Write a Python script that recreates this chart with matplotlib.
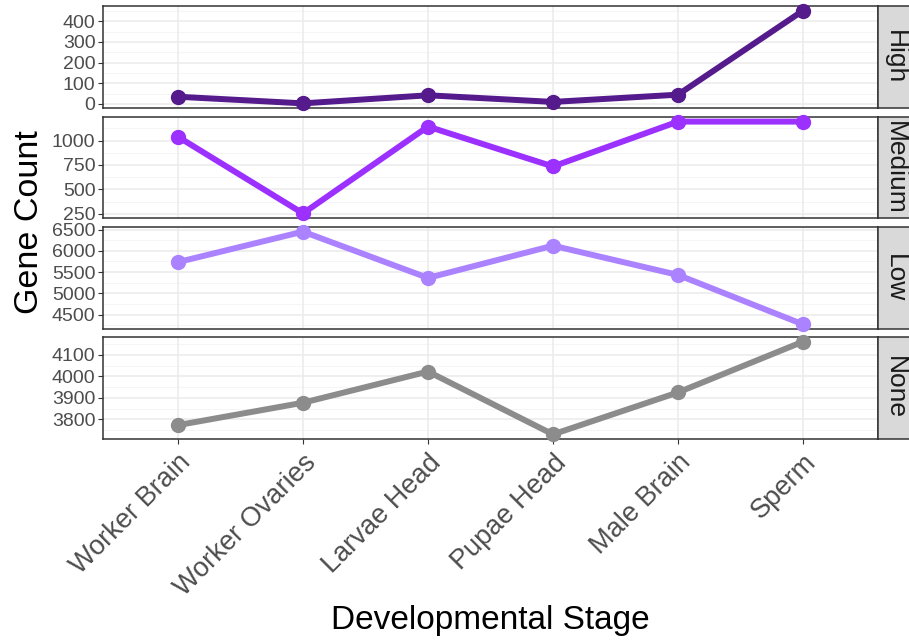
import numpy as np
import matplotlib
matplotlib.use("Agg")
import matplotlib.pyplot as plt
from matplotlib.ticker import FixedLocator

plt.rcParams['font.family'] = ['Liberation Sans', 'DejaVu Sans']

# data
stages = ["Worker Brain", "Worker Ovaries", "Larvae Head", "Pupae Head", "Male Brain", "Sperm"]
levels = ["High", "Medium", "Low", "None"]
high = [35, 3, 42, 10, 45, 451]
medium = [1038, 253, 1143, 734, 1194, 1194]
low = [5734, 6450, 5362, 6120, 5432, 4270]
none = [3773, 3877, 4022, 3730, 3925, 4161]
series = [high, medium, low, none]
colors = ["#551A8B", "#9B30FF", "#AB82FF", "#8C8C8C"]
yticks = [[0, 100, 200, 300, 400],
          [250, 500, 750, 1000],
          [4500, 5000, 5500, 6000, 6500],
          [3800, 3900, 4000, 4100]]

W, H = 909, 640
fig = plt.figure(figsize=(W / 100, H / 100), dpi=100)

left, right, strip_r = 103, 878, 909
panels = [(6, 108), (117, 218), (227, 329), (337, 439)]
x = np.arange(1, len(stages) + 1)

for i, (top, bot) in enumerate(panels):
    ax = fig.add_axes([left / W, 1 - bot / H, (right - left) / W, (bot - top) / H])
    vals = series[i]
    lo, hi = min(vals), max(vals)
    pad = 0.05 * (hi - lo)
    ax.set_ylim(lo - pad, hi + pad)
    ax.set_xlim(0.4, len(stages) + 0.6)
    # grid
    maj = yticks[i]
    step = maj[1] - maj[0]
    minor = [maj[0] - step / 2] + [v + step / 2 for v in maj]
    for v in minor:
        ax.axhline(v, color="#F2F2F2", lw=0.55, zorder=0)
    for v in maj:
        ax.axhline(v, color="#EBEBEB", lw=1.1, zorder=0)
    for v in x:
        ax.axvline(v, color="#EBEBEB", lw=1.1, zorder=0)
    ax.plot(x, vals, color=colors[i], lw=4.3, marker="o", ms=10, zorder=3,
            solid_capstyle="butt", clip_on=False)
    ax.yaxis.set_major_locator(FixedLocator(maj))
    ax.tick_params(axis="y", labelsize=14, labelcolor="#4D4D4D", color="#333333",
                   length=3.5, width=0.8, pad=2)
    ax.set_xticks(x)
    if i == len(panels) - 1:
        ax.set_xticklabels(stages, rotation=45, ha="right", va="top",
                           rotation_mode="anchor", fontsize=19.5, color="#4D4D4D")
        ax.tick_params(axis="x", color="#333333", length=3.5, width=0.8, pad=4)
    else:
        ax.tick_params(axis="x", length=0, labelbottom=False)
    for s in ax.spines.values():
        s.set_color("#333333")
        s.set_linewidth(1.1)
    # facet strip
    sax = fig.add_axes([right / W, 1 - bot / H, (strip_r - right + 2) / W, (bot - top) / H])
    sax.set_facecolor("#D9D9D9")
    sax.set_xticks([])
    sax.set_yticks([])
    for s in sax.spines.values():
        s.set_color("#333333")
        s.set_linewidth(1.1)
    sax.text(0.5, 0.5, levels[i], rotation=-90, ha="center", va="center",
             fontsize=19, color="#1A1A1A", transform=sax.transAxes)

fig.text(30 / W, 1 - 222 / H, "Gene Count", rotation=90, ha="center", va="center",
         fontsize=24.5)
fig.text(490 / W, 1 - 620 / H, "Developmental Stage", ha="center", va="center",
         fontsize=24)

fig.savefig("out.png", dpi=100, facecolor="white")
